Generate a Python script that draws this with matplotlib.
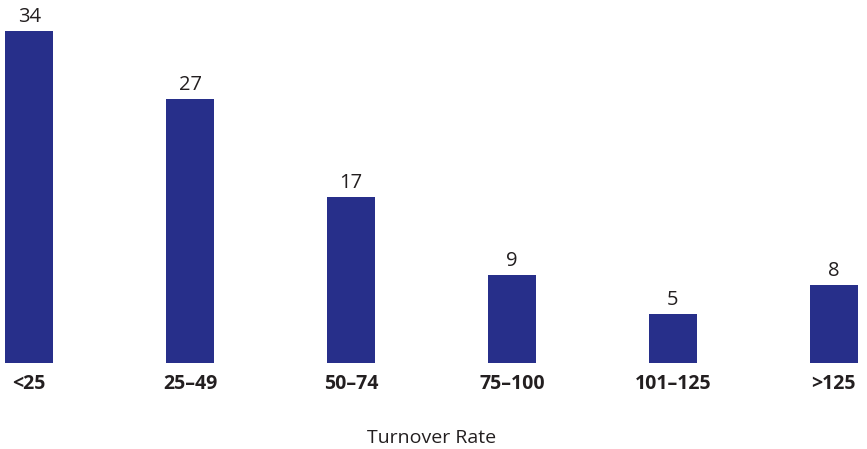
import matplotlib
matplotlib.use('Agg')
import matplotlib.pyplot as plt
import numpy as np

categories = ['<25', '25–49', '50–74', '75–100', '101–125', '>125']
values = [34, 27, 17, 9, 5, 8]

plt.rcParams['font.family'] = ['Open Sans', 'DejaVu Sans']

W, H = 867, 449
fig = plt.figure(figsize=(W / 100, H / 100), dpi=100)
ax = fig.add_axes([5 / W, (H - 363) / H, 853 / W, 332 / H])

x = np.arange(len(categories))
ax.bar(x, values, width=0.30, color='#272F8A')
ax.set_xlim(-0.15, 5.15)
ax.set_ylim(0, 34)

for xi, v in zip(x, values):
    ax.annotate(str(v), (xi, v), xytext=(0, 3), textcoords='offset points',
                ha='center', va='bottom', fontsize=14.5, color='#231F20')

ax.set_xticks(x)
ax.set_xticklabels(categories, fontsize=14, fontweight='bold', color='#231F20')
ax.tick_params(axis='x', length=0, pad=8)
ax.set_yticks([])
ax.set_xlabel('Turnover Rate', fontsize=14, color='#231F20', labelpad=25)

for s in ax.spines.values():
    s.set_visible(False)

fig.savefig('out.png', dpi=100)
